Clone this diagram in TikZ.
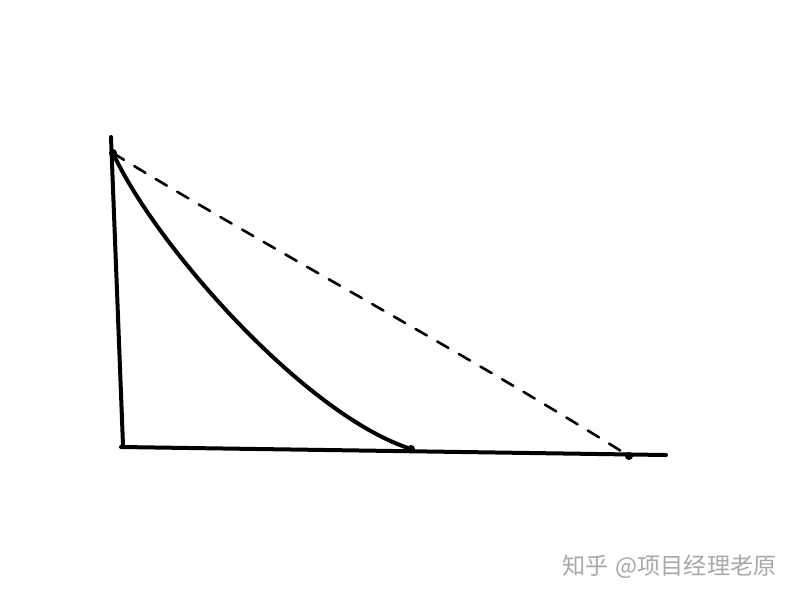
\documentclass[tikz,border=0pt]{standalone}
\usepackage{fontspec}
\newfontfamily\cjk{Noto Sans CJK SC}
\begin{document}
\begin{tikzpicture}[x=1pt,y=-1pt,
  pen/.style={line width=4pt,line cap=round,line join=round,black},
  dashpen/.style={line width=2.6pt,line cap=round,dash pattern=on 13pt off 12pt,black},
  dotmark/.style={circle,fill=black,inner sep=0pt,minimum size=8pt}]
\useasboundingbox[fill=white] (0,0) rectangle (800,600);
\coordinate (vtop) at (111,137);
\coordinate (vbot) at (123,445);
\coordinate (hl) at (121,447);
\coordinate (hr) at (666,455);
\node[dotmark] (A) at (113,153) {};
\node[dotmark] (B) at (411,449) {};
\node[dotmark] (C) at (629,456) {};
\draw[pen] (vtop) -- (vbot);
\draw[pen] (hl) -- (hr);
\draw[pen] (A.center) .. controls (155,245) and (305,415) .. (B.center);
\draw[dashpen] (A.center) .. controls (240,232) and (460,350) .. (C.center);
\node[text=gray!68,font=\cjk\fontsize{23.2}{27}\selectfont,anchor=west,inner sep=0pt] (wm) at (562,567) {知乎\hspace{0.3em}@项目经理老原};
\end{tikzpicture}
\end{document}
